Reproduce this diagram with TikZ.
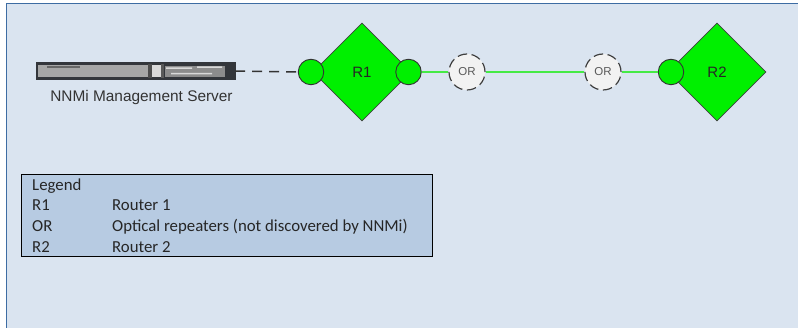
\documentclass[tikz,border=0pt]{standalone}
\usepackage{fontspec}
\setmainfont{Liberation Sans}
\newfontfamily\legendfont{Carlito}
\usetikzlibrary{shapes.geometric}
\definecolor{bgblue}{HTML}{DAE4F0}
\definecolor{frameblue}{HTML}{3D6CA3}
\definecolor{legblue}{HTML}{B7CBE2}
\definecolor{rgreen}{HTML}{00F000}
\definecolor{lgreen}{HTML}{45EA45}
\definecolor{orfill}{HTML}{F2F2F2}
\definecolor{srvdark}{HTML}{33363B}
\tikzset{
 router/.style={diamond,draw=black!75,fill=rgreen,line width=.8pt,minimum width=98pt,minimum height=98pt,inner sep=0pt,aspect=1,font=\fontsize{15}{15}\selectfont,text=black!85},
 port/.style={circle,draw=black!80,fill=rgreen,line width=.9pt,minimum size=25.5pt,inner sep=0pt},
 repeater/.style={circle,draw=black!75,fill=orfill,dash pattern=on 9.5pt off 4.6pt,line width=1.2pt,minimum size=36pt,inner sep=0pt,font=\fontsize{11.5}{11.5}\selectfont,text=black!65},
 glink/.style={draw=lgreen,line width=1.2pt},
 dlink/.style={draw=black!80,line width=1.5pt,dash pattern=on 10pt off 7pt},
 legtext/.style={anchor=base west,inner sep=0pt,font=\legendfont\fontsize{16.8}{16.8}\selectfont,text=black!85},
 srv/.style={draw=srvdark,fill=srvdark,minimum width=199pt,minimum height=17pt,inner sep=0pt}
}
\begin{document}
\begin{tikzpicture}[x=1pt,y=-1pt]
\useasboundingbox (0,0) rectangle (798,328);
\fill[white] (0,0) rectangle (798,328);
\fill[bgblue] (6,3) rectangle (798,328);
\draw[frameblue,line width=1pt] (6.5,328) -- (6.5,3.5) -- (798,3.5);
% server
\node[srv] (srv) at (135.5,71) {};
\fill[black!35] (38,65) rectangle (148,77);
\fill[black!60] (47,66) rectangle (80,68.5);
\fill[black!70] (148,64) rectangle (152,78);
\fill[black!15] (152,65) rectangle (161,77);
\fill[black!65] (161,64) rectangle (164,78);
\fill[black!45] (165,66) rectangle (225,77);
\fill[black!15] (166,67.5) rectangle (192,69) (197,66.5) rectangle (222,68) (171,73) rectangle (212,74.5);
\node[inner sep=0pt,font=\fontsize{15.4}{15.4}\selectfont,text=black!80] (srvlabel) at (141.5,98) {NNMi Management Server};
% routers
\node[router] (r1) at (362,72) {R1};
\node[router] (r2) at (717,72) {R2};
\node[repeater] (or1) at (467,72) {OR};
\node[repeater] (or2) at (603,72) {OR};
\node[port] (p1) at (311,72) {};
\node[port] (p2) at (408.5,72) {};
\node[port] (p3) at (671,72) {};
% links
\draw[dlink] (srv.east) -- (p1.west);
\draw[glink] (p2) -- (or1);
\draw[glink] (or1) -- (or2);
\draw[glink] (or2) -- (p3);
% legend
\node[draw=black,fill=legblue,line width=.8pt,minimum width=411pt,minimum height=81.5pt,inner sep=0pt] (legend) at (227,215.25) {};
\node[legtext] (l0) at (32,191) {Legend};
\node[legtext] (l1) at (32,211) {R1};
\node[legtext] (l1b) at (112,211) {Router 1};
\node[legtext] (l2) at (32,232) {OR};
\node[legtext] (l2b) at (112,232) {Optical repeaters (not discovered by NNMi)};
\node[legtext] (l3) at (32,253) {R2};
\node[legtext] (l3b) at (112,253) {Router 2};
\end{tikzpicture}
\end{document}
